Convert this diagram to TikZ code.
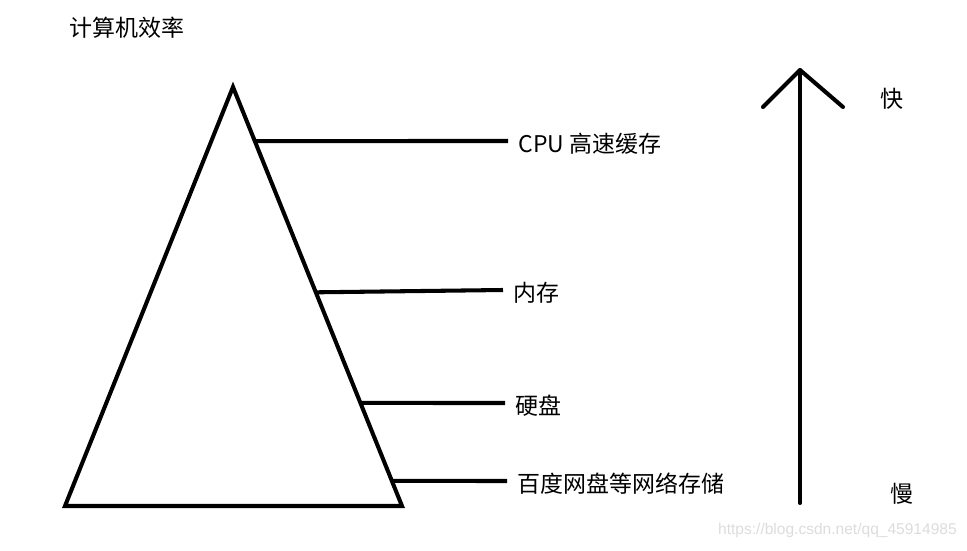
\documentclass[tikz,border=0pt]{standalone}
\usepackage{fontspec}
\usepackage{xcolor}
\usepackage{tikz}
\usetikzlibrary{calc}
\newfontfamily\cjkfont{Noto Sans CJK SC}
\newfontfamily\urlfont{Liberation Sans}
\definecolor{PyrInk}{HTML}{000000}
\definecolor{PyrMark}{HTML}{DCDCDC}

\tikzset{
  pyrline/.style={PyrInk,line width=3pt},
  tierlabel/.style={anchor=west,inner xsep=7.5pt,inner ysep=3pt,yshift=-2pt,font=\cjkfont\fontsize{17}{19}\selectfont},
  speedlabel/.style={inner sep=0pt,font=\cjkfont\fontsize{17}{19}\selectfont}
}

\begin{document}
\begin{tikzpicture}[x=0.026cm,y=-0.026cm]
\path[use as bounding box] (0,0) rectangle (967,550);
\node[speedlabel] (title) at (127,28) {计算机效率};
% pyramid
\coordinate (apex) at (233,87);
\coordinate (bl) at (65,506);
\coordinate (br) at (402,506);
\draw[pyrline] (apex) -- (br) -- (bl) -- cycle;
% tiers
\node[tierlabel] (cpu) at (508,141) {CPU 高速缓存};
\node[tierlabel] (mem) at (503,290) {内存};
\node[tierlabel] (disk) at (505,403) {硬盘};
\node[tierlabel] (cloud) at (507,481) {百度网盘等网络存储};
\draw[pyrline] ($(apex)!0.129!(br)$) -- (cpu.west |- 0,141);
\draw[pyrline] ($(apex)!0.490!(br)$) -- (mem.west |- 0,290);
\draw[pyrline] ($(apex)!0.754!(br)$) -- (disk.west |- 0,403);
\draw[pyrline] ($(apex)!0.940!(br)$) -- (cloud.west |- 0,481);
% speed arrow
\coordinate (slow) at (800,503);
\coordinate (fast) at (800,70);
\draw[pyrline,line cap=round] (slow) -- (fast);
\draw[pyrline,line cap=round,line join=round] ($(fast)+(-37,37)$) -- (fast) -- ($(fast)+(43,37)$);
\node[speedlabel] (quick) at (892,99) {快};
\node[speedlabel] (sluggish) at (902,494) {慢};
\node[anchor=east,inner sep=0pt,text=PyrMark,font=\urlfont\fontsize{11.5}{13}\selectfont] (mark) at (957,530) {https://blog.csdn.net/qq\_45914985};
\end{tikzpicture}
\end{document}
